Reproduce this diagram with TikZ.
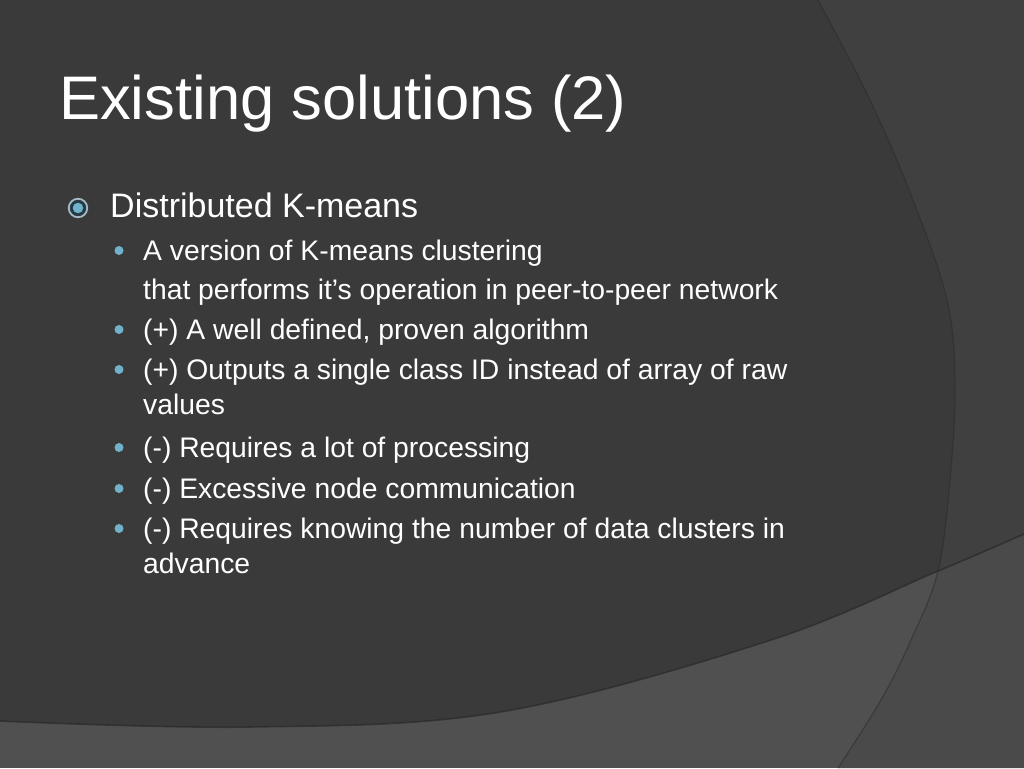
\documentclass[tikz,border=0pt]{standalone}
\usepackage{fontspec}
\setmainfont{Liberation Sans}
\definecolor{maindark}{RGB}{58,58,58}
\definecolor{rightpanel}{RGB}{64,64,64}
\definecolor{bottomband}{RGB}{80,80,80}
\definecolor{bottomright}{RGB}{74,74,74}
\definecolor{edgeshade}{RGB}{42,42,42}
\definecolor{bulletblue}{RGB}{112,178,202}
\definecolor{ringgray}{RGB}{165,188,198}
\definecolor{ringdark}{RGB}{38,58,68}
\begin{document}
\begin{tikzpicture}[x=1pt,y=-1pt,
  titletext/.style={anchor=base west,inner sep=0pt,text=white,font=\fontsize{61.5}{70}\selectfont},
  lvlone/.style={anchor=base west,inner sep=0pt,text=white,font=\fontsize{34}{40}\selectfont},
  lvltwo/.style={anchor=base west,inner sep=0pt,text=white,font=\fontsize{28.3}{34}\selectfont},
  smalldot/.style={circle,fill=bulletblue,minimum size=9pt,inner sep=0pt},
  bigring/.style={circle,draw=ringgray,line width=1.8pt,fill=ringdark,minimum size=18.5pt,inner sep=0pt},
  bigdot/.style={circle,fill=bulletblue,minimum size=10.5pt,inner sep=0pt},
  shade/.style={draw=edgeshade,line width=1.6pt,opacity=0.7}]
\useasboundingbox (0,0) rectangle (1024,768);
% background regions
\fill[bottomband] (0,0) rectangle (1024,768);
\fill[bottomright] plot[smooth,tension=0.6] coordinates {(818,0) (870,100) (913,200) (947,300) (955,384) (950,480) (938,571) (911,640) (881,700) (838,768)} -- (1024,768) -- (1024,0) -- cycle;
\begin{scope}
  \clip (0,0) -- plot[smooth,tension=0.6] coordinates {(0,721) (250,727) (500,712) (768,641) (938,571) (1024,534)} -- (1024,0) -- cycle;
  \fill[maindark] (0,0) rectangle (1024,768);
  \fill[rightpanel] plot[smooth,tension=0.6] coordinates {(818,0) (870,100) (913,200) (947,300) (955,384) (950,480) (938,571) (911,640) (881,700) (838,768)} -- (1024,768) -- (1024,0) -- cycle;
\end{scope}
\draw[shade] plot[smooth,tension=0.6] coordinates {(0,721) (250,727) (500,712) (768,641) (938,571) (1024,534)};
\draw[shade,line width=1.2pt,opacity=0.5] plot[smooth,tension=0.6] coordinates {(818,0) (870,100) (913,200) (947,300) (955,384) (950,480) (938,571) (911,640) (881,700) (838,768)};
% title
\node[titletext] (title) at (59,119) {Existing solutions (2)};
% level one
\node[bigring] (b0) at (78,208) {};
\node[bigdot] (b0dot) at (b0) {};
\node[lvlone] (t0) at (110,217) {Distributed K-means};
% level two
\node[smalldot] (b1) at (119,250.5) {};
\node[lvltwo] (t1) at (143,260) {A version of K-means clustering};
\node[lvltwo] (t1b) at (143,299.5) {that performs it’s operation in peer-to-peer network};
\node[smalldot] (b2) at (119,329.5) {};
\node[lvltwo] (t2) at (143,339) {(+) A well defined, proven algorithm};
\node[smalldot] (b3) at (119,369.5) {};
\node[lvltwo] (t3) at (143,379) {(+) Outputs a single class ID instead of array of raw};
\node[lvltwo] (t3b) at (143,414) {values};
\node[smalldot] (b4) at (119,447.5) {};
\node[lvltwo] (t4) at (143,457) {(-) Requires a lot of processing};
\node[smalldot] (b5) at (119,488.5) {};
\node[lvltwo] (t5) at (143,498) {(-) Excessive node communication};
\node[smalldot] (b6) at (119,528.5) {};
\node[lvltwo] (t6) at (143,538) {(-) Requires knowing the number of data clusters in};
\node[lvltwo] (t6b) at (143,573) {advance};
\end{tikzpicture}
\end{document}
